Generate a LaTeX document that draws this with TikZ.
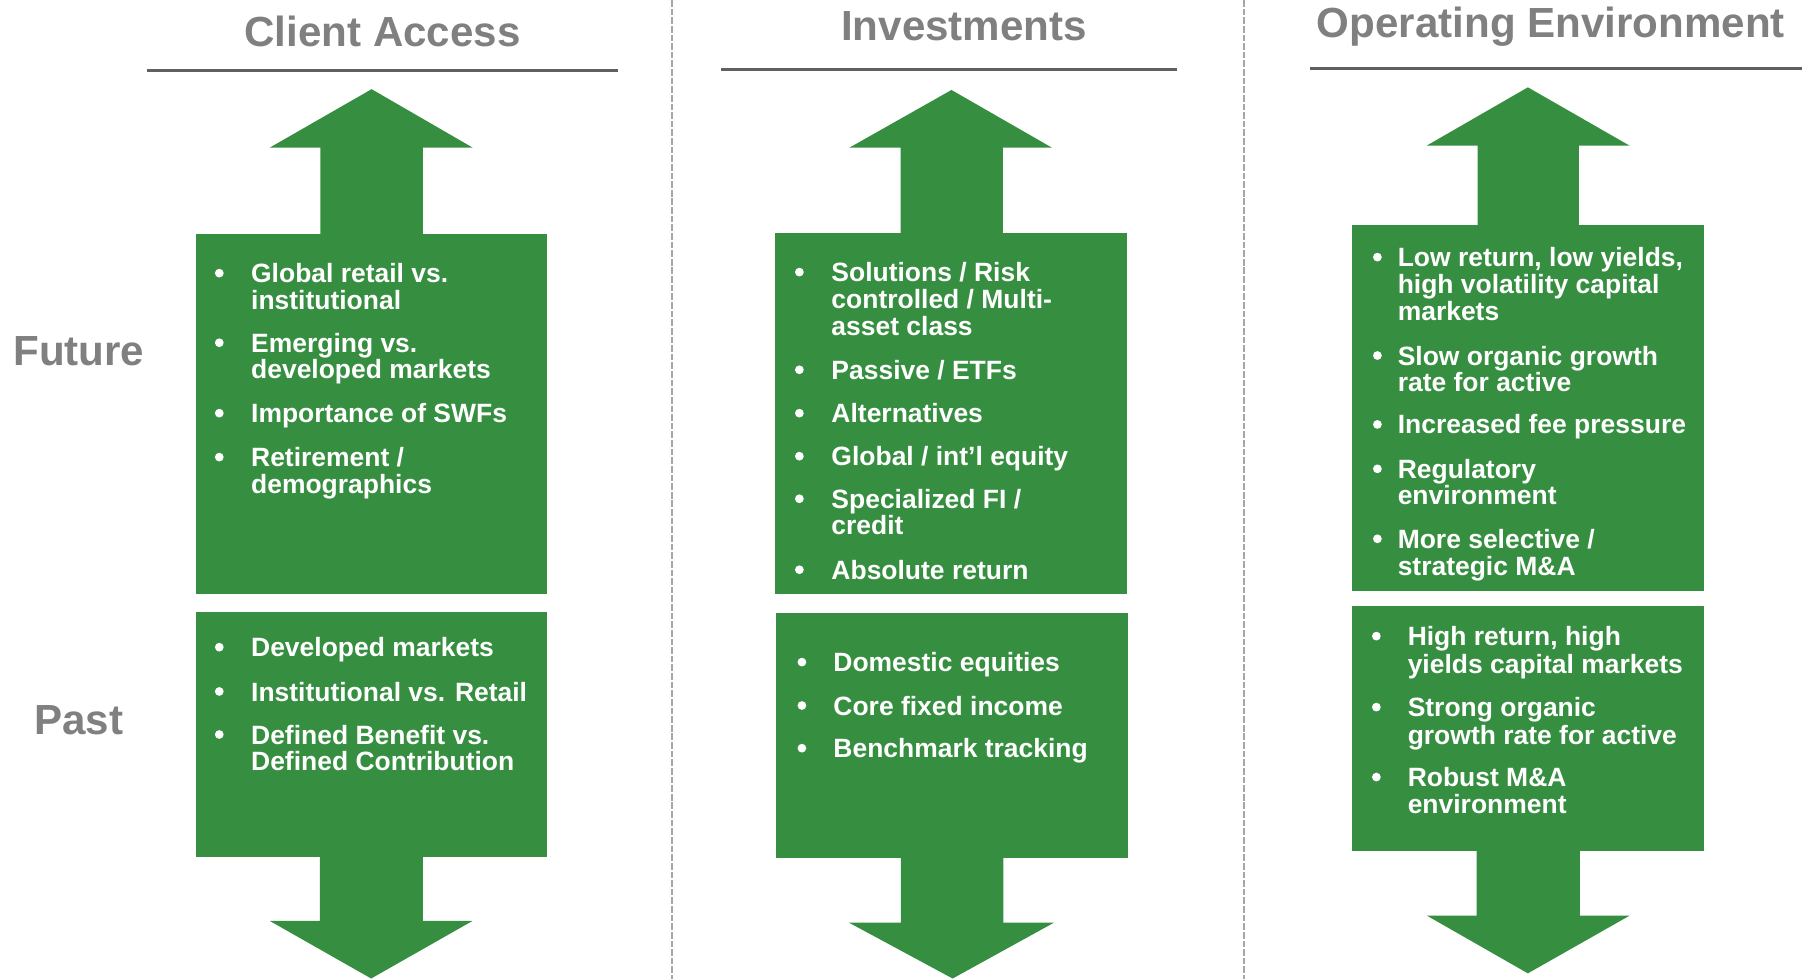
\documentclass[tikz,border=0pt]{standalone}
\usepackage{fontspec}
\setmainfont{Liberation Sans}
\definecolor{boxgreen}{RGB}{54,143,64}
\definecolor{headgray}{RGB}{128,128,128}
\definecolor{rulegray}{RGB}{96,96,96}
\definecolor{sepgray}{RGB}{166,166,166}

% bullet line: name, bullet x, text x, baseline y, text
\newcommand\gitem[5]{%
  \fill[white] (#2,#4-8.3) circle[radius=1.9pt];
  \node[itm] (#1) at (#3,#4) {#5};}
% continuation line of a bullet: name, text x, baseline y, text
\newcommand\gcont[4]{\node[itm] (#1) at (#2,#3) {#4};}

\begin{document}
\begin{tikzpicture}[x=0.5pt,y=-0.5pt,
  head/.style={text=headgray, font=\bfseries\fontsize{18.3}{20}\selectfont, inner sep=0, anchor=base},
  itm/.style={text=white, font=\bfseries\fontsize{11.5}{11.5}\selectfont, inner sep=0, anchor=base west},
  rule/.style={draw=rulegray, line width=1.3pt},
  sep/.style={draw=sepgray, line width=0.85pt, dash pattern=on 2.9pt off 0.85pt},
  green/.style={fill=boxgreen}]
\useasboundingbox (0,0) rectangle (1568,851);

% column separators
\draw[sep] (584.4,0) -- (584.4,851);
\draw[sep] (1081.5,0) -- (1081.5,851);

% column headings
\node[head] (hclient) at (332.5,40.6) {Client Access};
\node[head] (hinv) at (838,34.8) {Investments};
\node[head] (hop) at (1348,32.5) {Operating Environment};
\draw[rule] (128,61) -- (537,61);
\draw[rule] (627,60.3) -- (1023,60.3);
\draw[rule] (1139,59.4) -- (1566,59.4);

% row labels
\node[head] (lfuture) at (68.5,317.3) {Future};
\node[head] (lpast) at (68.4,638) {Past};

% ---- Client Access column ----
\fill[green] (278.5,204) -- (278.5,128.3) -- (234.5,128.3) -- (323,77.5)
  -- (410.8,128.3) -- (367.5,128.3) -- (367.5,204) -- cycle;
\fill[green] (170,203) rectangle (475,516);
\fill[green] (170,532) rectangle (475,745);
\fill[green] (278,744) -- (278,800.5) -- (234.6,800.5) -- (322.6,850.5)
  -- (410.6,800.5) -- (367.5,800.5) -- (367.5,744) -- cycle;

\gitem{ca1}{190.6}{217.9}{245.7}{Global retail vs.}
\gcont{ca1b}{217.9}{268.9}{institutional}
\gitem{ca2}{190.6}{217.9}{306.2}{Emerging vs.}
\gcont{ca2b}{217.9}{329.4}{developed markets}
\gitem{ca3}{190.6}{217.9}{367.4}{Importance of SWFs}
\gitem{ca4}{190.6}{217.9}{405.6}{Retirement /}
\gcont{ca4b}{217.9}{428.8}{demographics}

\gitem{cp1}{190.6}{217.9}{570.8}{Developed markets}
\gitem{cp2}{190.6}{217.9}{609.3}{Institutional vs. Retail}
\gitem{cp3}{190.6}{217.9}{646.7}{Defined Benefit vs.}
\gcont{cp3b}{217.9}{670.1}{Defined Contribution}

% ---- Investments column ----
\fill[green] (782.9,204) -- (782.9,128.4) -- (738.2,128.4) -- (827,78.2)
  -- (914.4,128.4) -- (871.6,128.4) -- (871.6,204) -- cycle;
\fill[green] (674,202.8) rectangle (979.4,516.6);
\fill[green] (674.5,532.5) rectangle (980.6,746);
\fill[green] (783,745) -- (783,802) -- (738,802) -- (828,850.5)
  -- (916,802) -- (872,802) -- (872,745) -- cycle;

\gitem{ia1}{694.8}{722.3}{244.8}{Solutions / Risk}
\gcont{ia1b}{722.3}{268}{controlled / Multi-}
\gcont{ia1c}{722.3}{291.2}{asset class}
\gitem{ia2}{694.8}{722.3}{329.7}{Passive / ETFs}
\gitem{ia3}{694.8}{722.3}{367.4}{Alternatives}
\gitem{ia4}{694.8}{722.3}{404.8}{Global / int’l equity}
\gitem{ia5}{694.8}{722.3}{441.8}{Specialized FI /}
\gcont{ia5b}{722.3}{465}{credit}
\gitem{ia6}{694.8}{722.3}{503.5}{Absolute return}

\gitem{ip1}{697}{724}{583.8}{Domestic equities}
\gitem{ip2}{697}{724}{621.5}{Core fixed income}
\gitem{ip3}{697}{724}{658.6}{Benchmark tracking}

% ---- Operating Environment column ----
\fill[green] (1284.2,197) -- (1284.2,126.6) -- (1240,126.6) -- (1328,75.9)
  -- (1416.4,126.6) -- (1372.4,126.6) -- (1372.4,197) -- cycle;
\fill[green] (1175.3,195.6) rectangle (1480.7,513.7);
\fill[green] (1175.3,526.4) rectangle (1480.7,739.7);
\fill[green] (1283.4,739) -- (1283.4,795.9) -- (1240.3,795.9) -- (1328,846)
  -- (1416.3,795.9) -- (1373.1,795.9) -- (1373.1,739) -- cycle;

\gitem{oa1}{1197.2}{1214.5}{231.8}{Low return, low yields,}
\gcont{oa1b}{1214.5}{254.9}{high volatility capital}
\gcont{oa1c}{1214.5}{278.7}{markets}
\gitem{oa2}{1197.2}{1214.5}{317.3}{Slow organic growth}
\gcont{oa2b}{1214.5}{340.4}{rate for active}
\gitem{oa3}{1197.2}{1214.5}{377.2}{Increased fee pressure}
\gitem{oa4}{1197.2}{1214.5}{415.8}{Regulatory}
\gcont{oa4b}{1214.5}{438.9}{environment}
\gitem{oa5}{1197.2}{1214.5}{476.6}{More selective /}
\gcont{oa5b}{1214.5}{499.8}{strategic M\&A}

\gitem{op1}{1196.3}{1223.2}{561.2}{High return, high}
\gcont{op1b}{1223.2}{585.5}{yields capital markets}
\gitem{op2}{1196.3}{1223.2}{622.9}{Strong organic}
\gcont{op2b}{1223.2}{646.7}{growth rate for active}
\gitem{op3}{1196.3}{1223.2}{683.7}{Robust M\&A}
\gcont{op3b}{1223.2}{706.9}{environment}
\end{tikzpicture}
\end{document}
